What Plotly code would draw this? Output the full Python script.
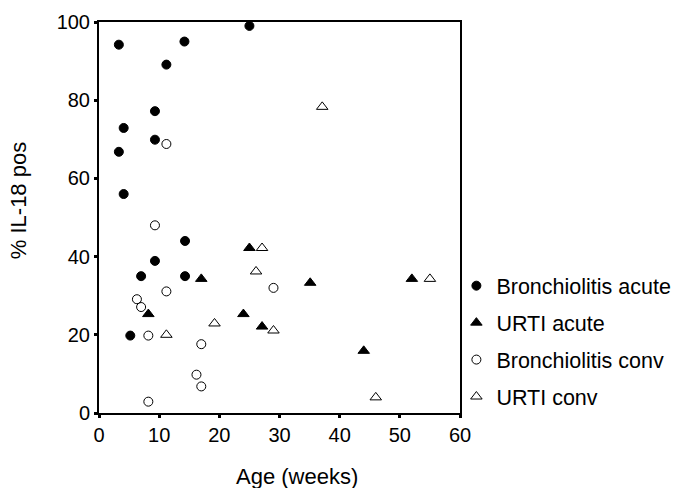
import plotly.graph_objects as go

# Data (age in weeks, % IL-18 positive)
bronch_acute_x = [25.0, 3.3, 14.2, 11.2, 9.3, 4.1, 9.3, 3.3, 4.1, 14.3, 9.3, 7.0, 14.3, 5.2]
bronch_acute_y = [99.0, 94.2, 95.0, 89.1, 77.2, 72.9, 69.9, 66.8, 56.0, 44.0, 38.9, 35.0, 35.0, 19.8]

urti_acute_x = [25.0, 17.0, 8.2, 24.0, 27.1, 35.1, 52.0, 44.0]
urti_acute_y = [42.2, 34.3, 25.3, 25.3, 22.1, 33.3, 34.3, 15.9]

bronch_conv_x = [11.2, 9.3, 29.0, 11.2, 6.3, 7.0, 8.2, 17.0, 16.2, 17.0, 8.2]
bronch_conv_y = [68.8, 48.0, 32.0, 31.1, 29.1, 27.1, 19.8, 17.6, 9.8, 6.8, 2.9]

urti_conv_x = [37.1, 27.1, 26.1, 19.2, 29.0, 11.2, 55.0, 46.0]
urti_conv_y = [78.3, 42.2, 36.2, 22.9, 21.1, 20.0, 34.3, 4.0]

x_ticks = [0, 10, 20, 30, 40, 50, 60]
y_ticks = [0, 20, 40, 60, 80, 100]

x_title = "Age (weeks)"
y_title = "% IL-18 pos"

FONT = "Liberation Sans, Arial, sans-serif"

series = [
    ("Bronchiolitis acute", bronch_acute_x, bronch_acute_y, "circle"),
    ("URTI acute", urti_acute_x, urti_acute_y, "triangle-up"),
    ("Bronchiolitis conv", bronch_conv_x, bronch_conv_y, "circle-open"),
    ("URTI conv", urti_conv_x, urti_conv_y, "triangle-up-open"),
]

fig = go.Figure()
for i, (name, xs, ys, sym) in enumerate(series):
    fig.add_trace(go.Scatter(
        x=xs, y=ys, mode="markers", name=name, legendgroup=f"g{i}",
        marker=dict(symbol=sym, size=9 if "circle" in sym else 10, color="black",
                    line=dict(color="black", width=1)),
        cliponaxis=False,
    ))

axis_common = dict(
    showline=True, linecolor="black", linewidth=2, mirror=True,
    ticks="outside", ticklen=3, tickwidth=3, tickcolor="black",
    showgrid=False, zeroline=False,
    tickfont=dict(family=FONT, size=20, color="black"),
)

fig.update_layout(
    width=677, height=488,
    margin=dict(l=99, r=217, t=22, b=75, autoexpand=False),
    paper_bgcolor="white", plot_bgcolor="white",
    font=dict(family=FONT, size=20, color="black"),
    xaxis=dict(range=[0, 60], tickvals=x_ticks, **axis_common),
    yaxis=dict(range=[0, 100], tickvals=y_ticks, **axis_common),
    legend=dict(x=0.99, xanchor="left", y=0.378, yanchor="top",
                font=dict(family=FONT, size=21.5, color="black"),
                tracegroupgap=6, itemwidth=30, bgcolor="rgba(0,0,0,0)"),
    annotations=[
        dict(text=x_title, xref="paper", yref="paper", x=0.548, y=-0.163,
             xanchor="center", yanchor="middle", showarrow=False,
             font=dict(family=FONT, size=22, color="black")),
        dict(text=y_title, xref="paper", yref="paper", x=-0.224, y=0.542,
             xanchor="center", yanchor="middle", showarrow=False, textangle=-90,
             font=dict(family=FONT, size=22, color="black")),
    ],
)

fig.write_html("out.html")
